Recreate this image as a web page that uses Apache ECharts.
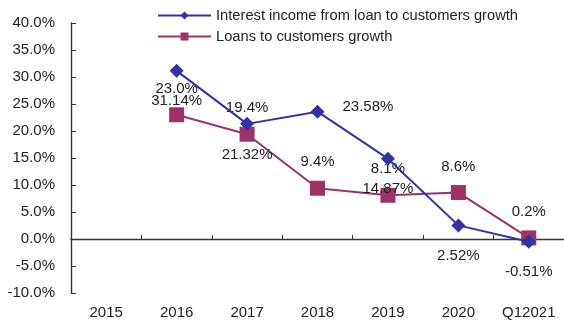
<!DOCTYPE html>
<html>
<head>
<meta charset="utf-8">
<script src="https://cdn.jsdelivr.net/npm/echarts@6/dist/echarts.min.js"></script>
<style>
  html, body { margin: 0; padding: 0; background: #fff; }
  #chart { width: 564px; height: 323px; }
</style>
</head>
<body>
<div id="chart"></div>
<script>
// Year categories on the x axis
const categories = ['2015', '2016', '2017', '2018', '2019', '2020', 'Q12021'];
// Growth rates in percent (2015 has no value)
const interestIncomeGrowth = [null, 31.14, 21.32, 23.58, 14.87, 2.52, -0.51];
const loansGrowth = [null, 23.0, 19.4, 9.4, 8.1, 8.6, 0.2];
const seriesNames = ['Interest income from loan to customers growth', 'Loans to customers growth'];
// Decimal places shown in each series' data labels
const interestDecimals = [0, 2, 2, 2, 2, 2, 2];
const loansDecimals = [0, 1, 1, 1, 1, 1, 1];

const FONT = '"Liberation Sans", Arial, sans-serif';
const BLUE = '#3232a8';
const PINK = '#9b3367';

const blueData = interestIncomeGrowth.map((v, i) => {
  if (v === null) return null;
  const item = {
    value: v,
    label: { formatter: v.toFixed(interestDecimals[i]) + '%' }
  };
  if (categories[i] === '2018') {
    item.label.position = 'right';
    item.label.distance = 18;
    item.label.offset = [0, -5];
  }
  return item;
});
const pinkData = loansGrowth.map((v, i) => v === null ? null : {
  value: v,
  label: { formatter: v.toFixed(loansDecimals[i]) + '%' }
});

const chart = echarts.init(document.getElementById('chart'), null, { renderer: 'canvas' });
chart.setOption({
  animation: false,
  textStyle: { fontFamily: FONT },
  grid: { left: 71, right: -1, top: 23, bottom: 30, containLabel: false },
  legend: {
    orient: 'vertical',
    left: 152,
    top: 3,
    itemWidth: 53,
    itemHeight: 10,
    itemGap: 6,
    textStyle: { fontFamily: FONT, fontSize: 14.7, color: '#222' },
    data: seriesNames
  },
  xAxis: [
    {
      type: 'category',
      data: categories,
      position: 'bottom',
      boundaryGap: true,
      axisLine: { onZero: true, lineStyle: { color: '#333', width: 1.4 } },
      axisTick: { show: true, inside: true, length: 4, lineStyle: { color: '#333' } },
      axisLabel: { show: false },
      splitLine: { show: false }
    },
    {
      type: 'category',
      data: categories,
      position: 'bottom',
      boundaryGap: true,
      axisLine: { show: false, onZero: false },
      axisTick: { show: false },
      axisLabel: { margin: 12, fontFamily: FONT, fontSize: 15, color: '#222' },
      splitLine: { show: false }
    }
  ],
  yAxis: {
    type: 'value',
    min: -10,
    max: 40,
    interval: 5,
    axisLine: { show: true, lineStyle: { color: '#333', width: 1.4 } },
    axisTick: { show: true, inside: true, length: 5, lineStyle: { color: '#333' } },
    axisLabel: {
      margin: 16,
      fontFamily: FONT,
      fontSize: 15,
      color: '#222',
      formatter: v => v.toFixed(1) + '%'
    },
    splitLine: { show: false }
  },
  series: [
    {
      name: seriesNames[0],
      type: 'line',
      xAxisIndex: 0,
      data: blueData,
      symbol: 'diamond',
      symbolSize: 14,
      lineStyle: { color: BLUE, width: 2 },
      itemStyle: { color: BLUE },
      label: {
        show: true,
        position: 'bottom',
        distance: 16,
        fontFamily: FONT,
        fontSize: 15,
        color: '#222'
      },
      z: 3
    },
    {
      name: seriesNames[1],
      type: 'line',
      xAxisIndex: 0,
      data: pinkData,
      symbol: 'rect',
      symbolSize: 15,
      lineStyle: { color: PINK, width: 2 },
      itemStyle: { color: PINK },
      label: {
        show: true,
        position: 'top',
        distance: 11,
        fontFamily: FONT,
        fontSize: 15,
        color: '#222'
      },
      z: 2
    }
  ]
});
</script>
</body>
</html>
